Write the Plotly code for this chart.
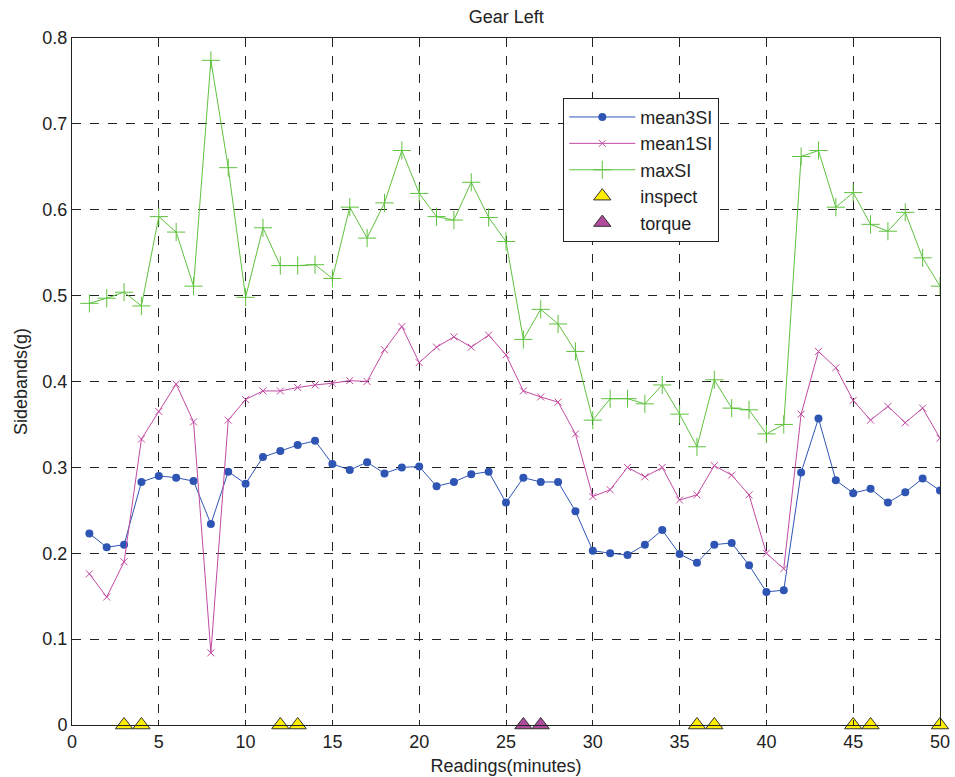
import plotly.graph_objects as go

readings = list(range(1, 51))

mean3SI = [0.223, 0.207, 0.210, 0.283, 0.290, 0.288, 0.284, 0.234, 0.295, 0.281,
           0.312, 0.319, 0.326, 0.331, 0.304, 0.297, 0.306, 0.293, 0.300, 0.301,
           0.278, 0.283, 0.292, 0.295, 0.259, 0.288, 0.283, 0.283, 0.249, 0.203,
           0.200, 0.198, 0.210, 0.227, 0.199, 0.189, 0.210, 0.212, 0.186, 0.155,
           0.157, 0.294, 0.357, 0.285, 0.270, 0.275, 0.259, 0.271, 0.287, 0.273]

mean1SI = [0.176, 0.149, 0.190, 0.333, 0.365, 0.397, 0.353, 0.084, 0.355, 0.379,
           0.389, 0.389, 0.393, 0.396, 0.398, 0.401, 0.400, 0.437, 0.464, 0.422,
           0.440, 0.452, 0.440, 0.454, 0.431, 0.389, 0.382, 0.376, 0.339, 0.266,
           0.274, 0.300, 0.289, 0.300, 0.262, 0.268, 0.302, 0.291, 0.268, 0.200,
           0.182, 0.362, 0.435, 0.416, 0.378, 0.355, 0.371, 0.352, 0.369, 0.334]

maxSI = [0.491, 0.497, 0.504, 0.488, 0.592, 0.574, 0.511, 0.774, 0.649, 0.498,
         0.579, 0.535, 0.535, 0.536, 0.520, 0.603, 0.567, 0.608, 0.669, 0.619,
         0.592, 0.588, 0.632, 0.591, 0.563, 0.449, 0.484, 0.467, 0.435, 0.355,
         0.380, 0.380, 0.374, 0.396, 0.362, 0.324, 0.402, 0.369, 0.367, 0.339,
         0.350, 0.662, 0.669, 0.603, 0.620, 0.583, 0.575, 0.597, 0.544, 0.511]

inspect_x = [3, 4, 12, 13, 36, 37, 45, 46, 50]
torque_x = [26, 27]

BLUE = "#2f55b4"
MAGENTA = "#c24aa2"
GREEN = "#5fc23f"
INK = "#222222"
FONT = "Liberation Sans, Arial, sans-serif"

fig = go.Figure()

fig.add_trace(go.Scatter(
    x=readings, y=mean3SI, name="mean3SI", mode="lines+markers",
    line=dict(color=BLUE, width=1),
    marker=dict(symbol="circle", size=8, color=BLUE),
))
fig.add_trace(go.Scatter(
    x=readings, y=mean1SI, name="mean1SI", mode="lines+markers",
    line=dict(color=MAGENTA, width=1),
    marker=dict(symbol="x-thin-open", size=7, color=MAGENTA, line=dict(color=MAGENTA, width=1)),
))
fig.add_trace(go.Scatter(
    x=readings, y=maxSI, name="maxSI", mode="lines+markers",
    line=dict(color=GREEN, width=1),
    marker=dict(symbol="cross-thin-open", size=13, color=GREEN, line=dict(color=GREEN, width=1)),
))
fig.add_trace(go.Scatter(
    x=inspect_x, y=[0] * len(inspect_x), name="inspect", mode="markers",
    cliponaxis=False,
    marker=dict(symbol="triangle-up", size=15, color="#ffee00", line=dict(color="#333333", width=1)),
))
fig.add_trace(go.Scatter(
    x=torque_x, y=[0] * len(torque_x), name="torque", mode="markers",
    cliponaxis=False,
    marker=dict(symbol="triangle-up", size=15, color="#b04a9c", line=dict(color="#333333", width=1)),
))

axis_common = dict(
    showline=True, linecolor=INK, linewidth=1, mirror="allticks",
    ticks="inside", ticklen=5, tickcolor=INK,
    showgrid=True, gridcolor=INK, gridwidth=1, griddash="dash",
    zeroline=False, automargin=False,
    tickfont=dict(family=FONT, size=18, color=INK),
)

fig.update_xaxes(
    range=[0, 50], tickvals=[0, 5, 10, 15, 20, 25, 30, 35, 40, 45, 50],
    title=dict(text="Readings(minutes)", standoff=8,
               font=dict(family=FONT, size=18, color=INK)),
    **axis_common,
)
fig.update_yaxes(
    range=[0, 0.8], tickvals=[0, 0.1, 0.2, 0.3, 0.4, 0.5, 0.6, 0.7, 0.8],
    ticktext=["0", "0.1", "0.2", "0.3", "0.4", "0.5", "0.6", "0.7", "0.8"],
    title=dict(text="Sidebands(g)", standoff=10,
               font=dict(family=FONT, size=18, color=INK)),
    **axis_common,
)

fig.update_layout(
    width=955, height=777,
    margin=dict(l=72, r=15, t=38, b=52),
    paper_bgcolor="white", plot_bgcolor="white",
    title=dict(text="Gear Left", x=0.53, xanchor="center", y=0.979, yanchor="middle",
               font=dict(family=FONT, size=18, color=INK)),
    showlegend=True,
    legend=dict(
        x=0.566, y=0.913, xanchor="left", yanchor="top",
        bgcolor="white", bordercolor=INK, borderwidth=1,
        font=dict(family=FONT, size=18, color=INK),
        itemwidth=66, tracegroupgap=0,
    ),
)

fig.write_html("out.html")
